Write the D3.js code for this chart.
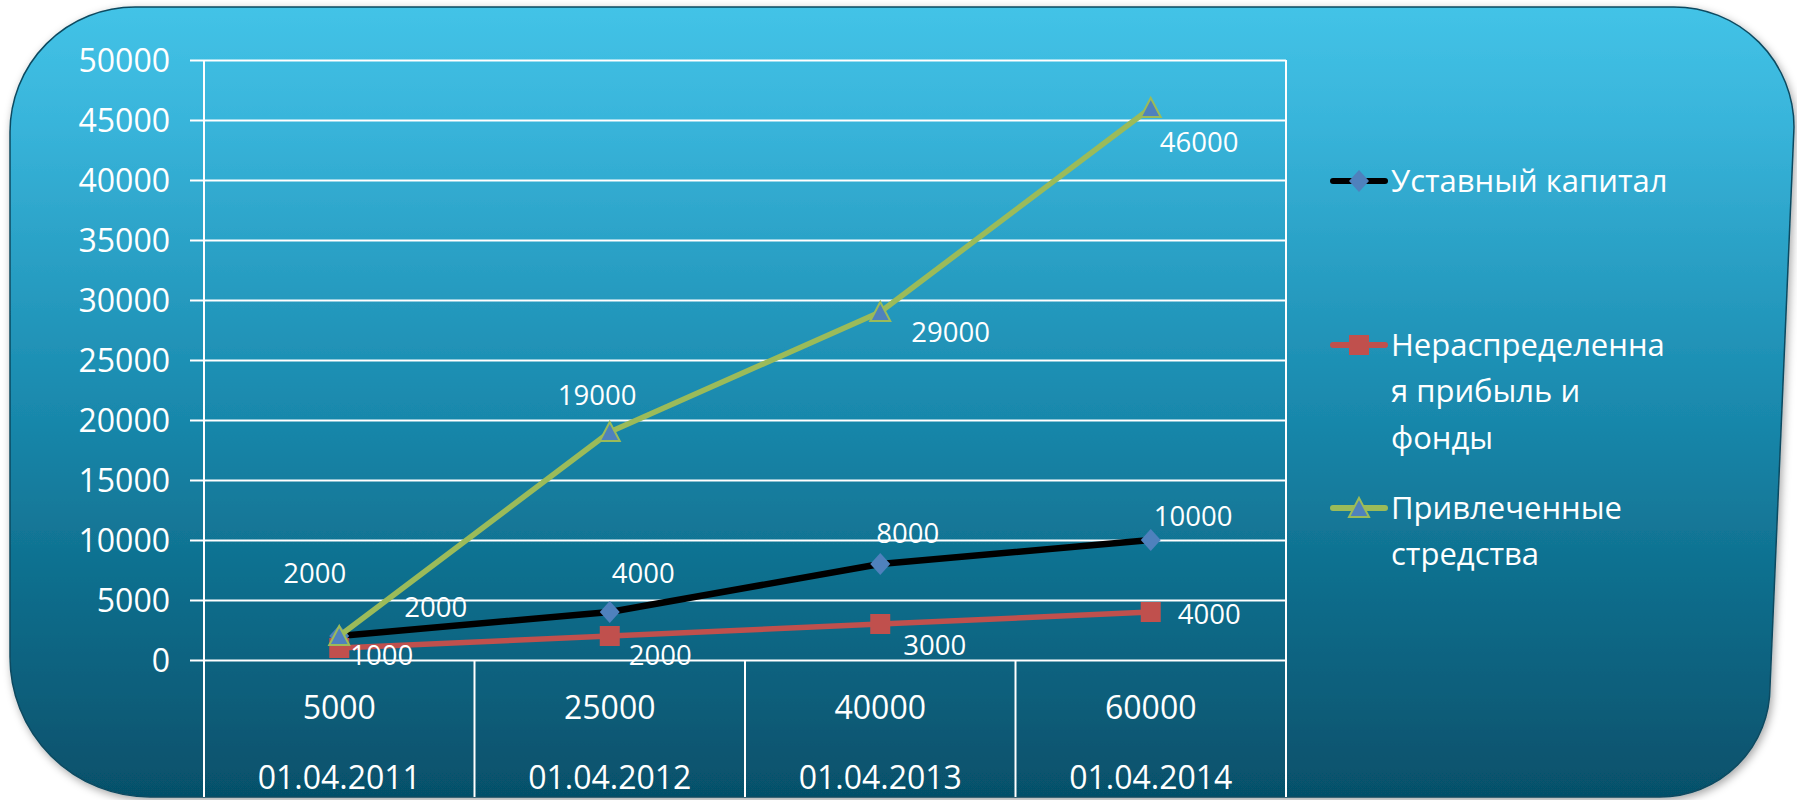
<!DOCTYPE html>
<html>
<head>
<meta charset="utf-8">
<script src="https://cdn.jsdelivr.net/npm/d3@7"></script>
<style>
  html, body { margin: 0; padding: 0; background: #ffffff; }
  svg { display: block; }
  text { font-family: "Open Sans", "Noto Sans", sans-serif; fill: #ffffff; }
</style>
</head>
<body>
<svg id="chart" width="1797" height="800"></svg>
<script>
// ---- data ----
const categories = ["01.04.2011", "01.04.2012", "01.04.2013", "01.04.2014"];
const categoryTotals = ["5000", "25000", "40000", "60000"];
const seriesNames = ["Уставный капитал", "Нераспределенная прибыль и фонды", "Привлеченные стредства"];
const legendLines = [["Уставный капитал"], ["Нераспределенна", "я прибыль и", "фонды"], ["Привлеченные", "стредства"]];
const ustavny = [2000, 4000, 8000, 10000];
const neraspr = [1000, 2000, 3000, 4000];
const privlech = [2000, 19000, 29000, 46000];
const yTicks = [0, 5000, 10000, 15000, 20000, 25000, 30000, 35000, 40000, 45000, 50000];

// label offsets (left edge dx, center dy) relative to each point
const labelOffsets = [
  [[65, -29], [2, -39], [-4, -31], [3, -24]],
  [[11, 7], [19, 19], [23, 21], [27, 2]],
  [[-56, -63], [-52, -37], [31, 20], [9, 34]]
];

const svg = d3.select("#chart");
const defs = svg.append("defs");

// background gradient
const grad = defs.append("linearGradient").attr("id", "bg").attr("x1", 0).attr("y1", 0).attr("x2", 0).attr("y2", 1);
[[0, "#43C3E7"], [0.15, "#38B4DA"], [0.5, "#1A8AAE"], [0.72, "#0F6F8E"], [1, "#06506A"]]
  .forEach(([o, c]) => grad.append("stop").attr("offset", o).attr("stop-color", c));

const shadow = defs.append("filter").attr("id", "shadow").attr("x", -0.05).attr("y", -0.05).attr("width", 1.1).attr("height", 1.1);
shadow.append("feDropShadow").attr("dx", 2).attr("dy", 3).attr("stdDeviation", 4).attr("flood-color", "#000").attr("flood-opacity", 0.35);

// rounded panel
const L = 10, T = 7, Rt = 1794, Rb = 1770, B = 797;
const r1 = 125, r2 = 120, r3 = 110, r4 = 140;
const panel = `M ${L + r1} ${T} L ${Rt - r2} ${T} A ${r2} ${r2} 0 0 1 ${Rt} ${T + r2}
  L ${Rb} ${B - r3} A ${r3} ${r3} 0 0 1 ${Rb - r3} ${B} L ${L + r4} ${B}
  A ${r4} ${r4} 0 0 1 ${L} ${B - r4} L ${L} ${T + r1} A ${r1} ${r1} 0 0 1 ${L + r1} ${T} Z`;
svg.append("path").attr("d", panel).attr("fill", "url(#bg)")
  .attr("stroke", "#0c4a60").attr("stroke-width", 1.5).attr("filter", "url(#shadow)");

// ---- scales ----
const plotLeft = 204, plotRight = 1286, plotTop = 60, plotBottom = 660;
const x = d3.scaleBand().domain(categories).range([plotLeft, plotRight]).paddingInner(0).paddingOuter(0);
const y = d3.scaleLinear().domain([0, 50000]).range([plotBottom, plotTop]);
const cx = c => x(c) + x.bandwidth() / 2;

// ---- y axis with gridlines ----
const yAxis = d3.axisLeft(y).tickValues(yTicks).tickFormat(d3.format("d"))
  .tickSizeInner(-(plotRight - plotLeft)).tickSizeOuter(0).tickPadding(34);
const gy = svg.append("g").attr("transform", `translate(${plotLeft},0)`).call(yAxis);
gy.select(".domain").remove();
gy.selectAll(".tick line").attr("x1", -14).attr("stroke", "#ffffff").attr("stroke-width", 2);
gy.selectAll(".tick text").attr("fill", "#ffffff").style("font-size", "32px")
  .style("font-family", '"Open Sans", sans-serif').attr("dy", "0.35em");

// vertical frame lines
svg.append("line").attr("x1", plotLeft).attr("x2", plotLeft).attr("y1", plotTop).attr("y2", B)
  .attr("stroke", "#fff").attr("stroke-width", 2);
svg.append("line").attr("x1", plotRight).attr("x2", plotRight).attr("y1", plotTop).attr("y2", B)
  .attr("stroke", "#fff").attr("stroke-width", 2);
// category separators below the axis
svg.append("g").selectAll("line").data(categories.slice(1)).join("line")
  .attr("x1", d => x(d)).attr("x2", d => x(d)).attr("y1", plotBottom).attr("y2", B)
  .attr("stroke", "#fff").attr("stroke-width", 2);

// category labels (two rows)
svg.append("g").selectAll("text").data(categories).join("text")
  .attr("x", d => cx(d)).attr("y", 708).attr("text-anchor", "middle").attr("dy", "0.35em")
  .style("font-size", "32px").text((d, i) => categoryTotals[i]);
svg.append("g").selectAll("text").data(categories).join("text")
  .attr("x", d => cx(d)).attr("y", 778).attr("text-anchor", "middle").attr("dy", "0.35em")
  .style("font-size", "32px").text(d => d);

// ---- series ----
const series = [
  { name: seriesNames[0], values: ustavny, line: "#000000", width: 6.5, marker: "diamond" },
  { name: seriesNames[1], values: neraspr, line: "#C0504D", width: 5.5, marker: "square" },
  { name: seriesNames[2], values: privlech, line: "#9BBB59", width: 5.5, marker: "triangle" }
];

function drawMarker(g, type, px, py) {
  if (type === "diamond") {
    g.append("path").attr("d", `M ${px} ${py - 11} L ${px + 10} ${py} L ${px} ${py + 11} L ${px - 10} ${py} Z`)
      .attr("fill", "#4F81BD");
  } else if (type === "square") {
    g.append("rect").attr("x", px - 10).attr("y", py - 10).attr("width", 20).attr("height", 20).attr("fill", "#C0504D");
  } else {
    g.append("path").attr("d", `M ${px} ${py - 10} L ${px + 10} ${py + 9} L ${px - 10} ${py + 9} Z`)
      .attr("fill", "#4F81BD").attr("stroke", "#9BBB59").attr("stroke-width", 2).attr("stroke-linejoin", "miter");
  }
}

const lineGen = d3.line().x((d, i) => cx(categories[i])).y(d => y(d));

series.forEach((s, si) => {
  const g = svg.append("g");
  g.append("path").datum(s.values).attr("d", lineGen).attr("fill", "none")
    .attr("stroke", s.line).attr("stroke-width", s.width).attr("stroke-linejoin", "round");
  s.values.forEach((v, i) => drawMarker(g, s.marker, cx(categories[i]), y(v)));
});

// data labels
series.forEach((s, si) => {
  svg.append("g").selectAll("text").data(s.values).join("text")
    .attr("x", (d, i) => cx(categories[i]) + labelOffsets[si][i][0])
    .attr("y", (d, i) => y(d) + labelOffsets[si][i][1])
    .attr("dy", "0.35em").style("font-size", "27.5px").text(d => d);
});

// ---- legend ----
const legendY = [181, 345, 508];
const lineH = 46.5;
series.forEach((s, si) => {
  const g = svg.append("g");
  const ly = legendY[si];
  g.append("line").attr("x1", 1333).attr("x2", 1385).attr("y1", ly).attr("y2", ly)
    .attr("stroke", s.line).attr("stroke-width", 6).attr("stroke-linecap", "round");
  drawMarker(g, s.marker, 1359, ly);
  legendLines[si].forEach((t, k) => {
    g.append("text").attr("x", 1391).attr("y", ly + k * lineH).attr("dy", "0.35em")
      .style("font-size", "31px").text(t);
  });
});
</script>
</body>
</html>
